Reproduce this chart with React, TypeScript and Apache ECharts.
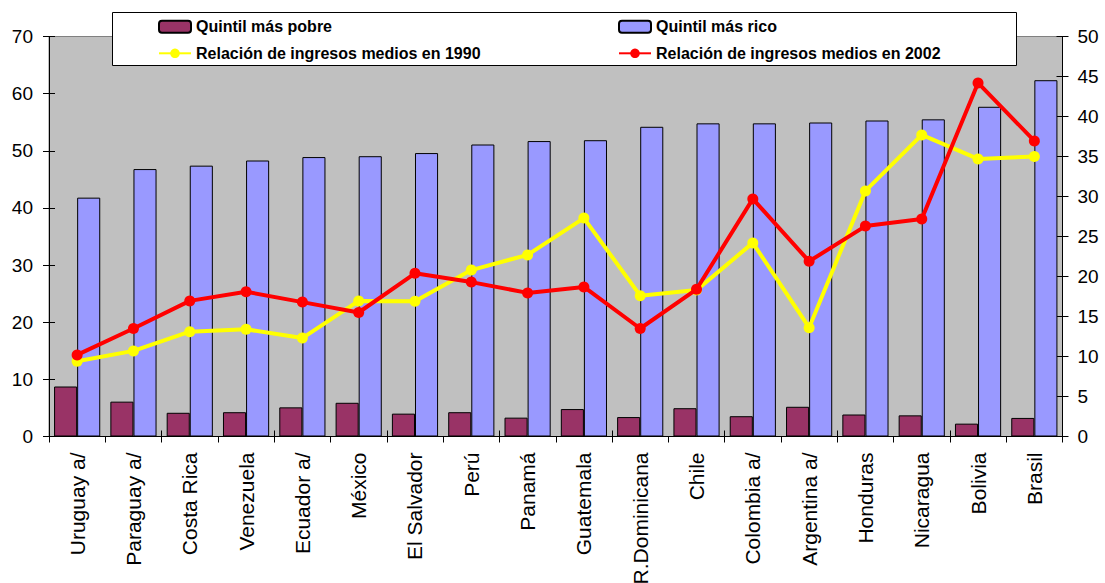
import React, { useEffect, useRef } from "react";
import * as echarts from "echarts";

const countries = [
  "Uruguay a/", "Paraguay a/", "Costa Rica", "Venezuela", "Ecuador a/", "México",
  "El Salvador", "Perú", "Panamá", "Guatemala", "R.Dominicana", "Chile",
  "Colombia a/", "Argentina a/", "Honduras", "Nicaragua", "Bolivia", "Brasil",
];
const poorest = [8.75, 6.1, 4.15, 4.25, 5.1, 5.9, 4.0, 4.25, 3.3, 4.8, 3.4, 4.95, 3.55, 5.2, 3.85, 3.7, 2.25, 3.25];
const richest = [41.8, 46.8, 47.4, 48.3, 48.9, 49.05, 49.6, 51.1, 51.7, 51.85, 54.2, 54.8, 54.8, 54.95, 55.3, 55.5, 57.7, 62.35];
const ratio1990 = [9.4, 10.7, 13.1, 13.4, 12.3, 16.95, 16.9, 20.8, 22.7, 27.3, 17.6, 18.3, 24.2, 13.6, 30.7, 37.7, 34.7, 35.0];
const ratio2002 = [10.2, 13.5, 16.95, 18.1, 16.8, 15.5, 20.4, 19.3, 17.95, 18.7, 13.5, 18.4, 29.7, 21.9, 26.3, 27.2, 44.2, 36.95];
const leftTicks = { min: 0, max: 70, interval: 10 };
const rightTicks = { min: 0, max: 50, interval: 5 };

const names = {
  poor: "Quintil más pobre",
  rich: "Quintil más rico",
  y1990: "Relación de ingresos medios en 1990",
  y2002: "Relación de ingresos medios en 2002",
};

const FONT = "Arial, 'Liberation Sans', sans-serif";

export default function App() {
  const ref = useRef<HTMLDivElement>(null);
  useEffect(() => {
    document.body.style.margin = "0";
    const chart = echarts.init(ref.current!, null, { renderer: "svg" });
    const legendText = { fontFamily: FONT, fontSize: 16, fontWeight: "bold", color: "#000", lineHeight: 16 };
    const mkLegend = (name: string, left: number, top: number) => ({
      data: [name],
      left,
      top,
      orient: "horizontal",
      itemWidth: 32,
      itemHeight: 12,
      padding: 0,
      selectedMode: false,
      textStyle: legendText,
      z: 10,
    });
    const blackLine = { color: "#000", width: 1 };
    chart.setOption({
      animation: false,
      textStyle: { fontFamily: FONT },
      grid: {
        left: 49,
        right: 42.5,
        top: 36.5,
        bottom: 146.5,
        show: true,
        backgroundColor: "#C0C0C0",
        borderColor: "#808080",
        borderWidth: 1,
        outerBoundsMode: "none",
        containLabel: false,
      },
      graphic: [
        {
          type: "rect",
          z: 5,
          shape: { x: 112.5, y: 12.5, width: 904, height: 53 },
          style: { fill: "#fff", stroke: "#000", lineWidth: 1 },
        },
      ],
      legend: [
        mkLegend(names.poor, 158, 18.7),
        mkLegend(names.y1990, 158, 45.3),
        mkLegend(names.rich, 618, 18.7),
        mkLegend(names.y2002, 618, 45.3),
      ],
      xAxis: [
        {
          type: "category",
          data: countries,
          position: "bottom",
          axisLine: { show: true, lineStyle: blackLine },
          axisTick: { show: true, length: 6, lineStyle: blackLine },
          axisLabel: { rotate: 90, interval: 0, fontSize: 21, margin: 16, color: "#000", fontFamily: FONT },
          splitLine: { show: false },
        },
        {
          type: "category",
          data: countries,
          position: "bottom",
          axisLine: { show: false },
          axisTick: { show: true, inside: true, length: 6, lineStyle: blackLine },
          axisLabel: { show: false },
          splitLine: { show: false },
        },
      ],
      yAxis: [
        {
          type: "value",
          position: "left",
          ...leftTicks,
          axisLine: { show: true, lineStyle: blackLine },
          axisTick: { show: true, length: 6, lineStyle: blackLine },
          axisLabel: { fontSize: 19, margin: 16, color: "#000", fontFamily: FONT },
          splitLine: { show: false },
        },
        {
          type: "value",
          position: "right",
          ...rightTicks,
          axisLine: { show: true, lineStyle: blackLine },
          axisTick: { show: true, length: 6, lineStyle: blackLine },
          axisLabel: { fontSize: 19, margin: 15, color: "#000", fontFamily: FONT },
          splitLine: { show: false },
        },
        {
          type: "value",
          position: "left",
          ...leftTicks,
          axisLine: { show: false },
          axisTick: { show: true, inside: true, length: 6, lineStyle: blackLine },
          axisLabel: { show: false },
          splitLine: { show: false },
        },
        {
          type: "value",
          position: "right",
          ...rightTicks,
          axisLine: { show: false },
          axisTick: { show: true, inside: true, length: 6, lineStyle: blackLine },
          axisLabel: { show: false },
          splitLine: { show: false },
        },
      ],
      series: [
        {
          name: names.poor,
          type: "bar",
          data: poorest,
          barGap: "0%",
          barCategoryGap: "18%",
          itemStyle: { color: "#993366", borderColor: "#000", borderWidth: 1 },
        },
        {
          name: names.rich,
          type: "bar",
          data: richest,
          barGap: "0%",
          barCategoryGap: "18%",
          itemStyle: { color: "#9999FF", borderColor: "#000", borderWidth: 1 },
        },
        {
          name: names.y1990,
          type: "line",
          yAxisIndex: 1,
          data: ratio1990,
          symbol: "circle",
          symbolSize: 11,
          z: 3,
          lineStyle: { color: "#FFFF00", width: 4 },
          itemStyle: { color: "#FFFF00" },
        },
        {
          name: names.y2002,
          type: "line",
          yAxisIndex: 1,
          data: ratio2002,
          symbol: "circle",
          symbolSize: 11,
          z: 4,
          lineStyle: { color: "#FF0000", width: 4 },
          itemStyle: { color: "#FF0000" },
        },
      ],
    });
    return () => chart.dispose();
  }, []);
  return <div ref={ref} style={{ width: 1105, height: 583 }} />;
}
